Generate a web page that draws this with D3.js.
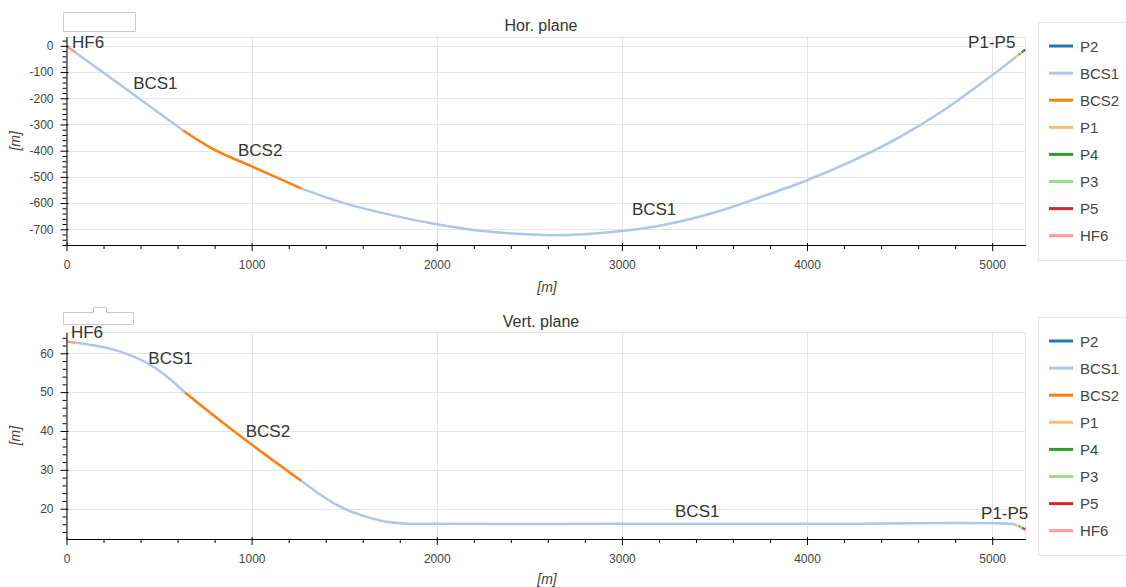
<!DOCTYPE html>
<html>
<head>
<meta charset="utf-8">
<script src="https://cdn.jsdelivr.net/npm/d3@7"></script>
<style>
  body { margin: 0; background: #fff; }
  svg { display: block; font-family: "Liberation Sans", Arial, Helvetica, sans-serif; }
</style>
</head>
<body>
<svg id="chart"></svg>
<script>
// track segments, in order along the line
const segNames = ["HF6", "BCS1", "BCS2", "BCS1", "P1", "P2", "P3", "P4", "P5"];

// distance along the line [m]
const horDist = [
    [0, 50],
    [50, 300, 630],
    [630, 800, 1000, 1270],
    [1270, 1500, 1750, 2000, 2250, 2580, 2800, 3000, 3250, 3500, 3750, 4000, 4250, 4500, 4750, 5000, 5130],
    [5130, 5145],
    [5145, 5150],
    [5150, 5160],
    [5160, 5170],
    [5170, 5178]
];
// horizontal offset [m]
const horVal = [
    [0, -26],
    [-26, -153, -323],
    [-323, -397, -460, -545],
    [-545, -600, -645, -681, -707, -722, -719, -707, -680, -636, -577, -513, -437, -348, -240, -112, -41],
    [-41, -33],
    [-33, -30],
    [-30, -25],
    [-25, -19],
    [-19, -15]
];

const vertDist = [
    [0, 50],
    [50, 150, 250, 350, 450, 550, 640],
    [640, 800, 1000, 1270],
    [1270, 1350, 1440, 1530, 1620, 1720, 1820, 2000, 3000, 4000, 5100, 5130],
    [5130, 5145],
    [5145, 5150],
    [5150, 5160],
    [5160, 5170],
    [5170, 5178]
];
// height [m]
const vertVal = [
    [63.0, 62.7],
    [62.7, 62.0, 61.0, 59.4, 57.1, 53.7, 49.9],
    [49.9, 43.8, 36.5, 27.1],
    [27.1, 24.3, 21.5, 19.4, 17.9, 16.7, 16.2, 16.1, 16.1, 16.1, 16.1, 15.8],
    [15.8, 15.5],
    [15.5, 15.4],
    [15.4, 15.1],
    [15.1, 14.9],
    [14.9, 14.7]
];

const legendNames = ["P2", "BCS1", "BCS2", "P1", "P4", "P3", "P5", "HF6"];
const segColors = {
    P2: "#1f77b4", BCS1: "#aec7e8", BCS2: "#ff7f0e", P1: "#ffbb78",
    P4: "#2ca02c", P3: "#98df8a", P5: "#d62728", HF6: "#ff9896"
};

// element name labels (data coordinates)
const labelText = ["HF6", "BCS1", "BCS2", "BCS1", "P1-P5"];
const horLabelPos = [[30, -8], [360, -165], [926, -420], [3054, -645], [4870, -10]];
const vertLabelPos = [[24, 64.0], [442, 57.2], [968, 38.4], [3287, 17.9], [4940, 17.4]];

const xTicks = [0, 1000, 2000, 3000, 4000, 5000];
const horTicks = [-700, -600, -500, -400, -300, -200, -100, 0];
const vertTicks = [20, 30, 40, 50, 60];

const width = 1126, height = 587;
const svg = d3.select("#chart").attr("width", width).attr("height", height);

const x = d3.scaleLinear().domain([0, 5180]).range([66.5, 1025.5]);

function drawPanel(p) {
    const g = svg.append("g");
    const y = d3.scaleLinear().domain(p.yDomain).range([p.bottom, p.top]);

    // grid
    g.selectAll(".xgrid").data(xTicks.slice(1)).join("line")
        .attr("x1", d => Math.round(x(d)) + 0.5).attr("x2", d => Math.round(x(d)) + 0.5)
        .attr("y1", p.top).attr("y2", p.bottom)
        .attr("stroke", "#e5e5e5");
    g.selectAll(".ygrid").data(p.ticks).join("line")
        .attr("x1", x.range()[0]).attr("x2", x.range()[1])
        .attr("y1", d => Math.round(y(d)) + 0.5).attr("y2", d => Math.round(y(d)) + 0.5)
        .attr("stroke", "#e5e5e5");
    g.append("rect")
        .attr("x", x.range()[0]).attr("y", Math.round(p.top) + 0.5)
        .attr("width", x.range()[1] - x.range()[0]).attr("height", p.bottom - Math.round(p.top))
        .attr("fill", "none").attr("stroke", "#e5e5e5");

    // track segments
    const line = d3.line().x(d => x(d[0])).y(d => y(d[1])).curve(d3.curveCatmullRom.alpha(0.5));
    segNames.forEach((name, i) => {
        const pts = p.dist[i].map((s, j) => [s, p.vals[i][j]]);
        g.append("path")
            .attr("d", line(pts))
            .attr("fill", "none")
            .attr("stroke", segColors[name])
            .attr("stroke-width", 2.5);
    });

    // element labels
    g.selectAll(".lbl").data(p.labels).join("text")
        .attr("x", d => x(d[0])).attr("y", d => y(d[1]))
        .attr("font-size", 17).attr("fill", "#333")
        .text((d, i) => labelText[i]);

    // axes
    const xAxis = g.append("g")
        .attr("transform", "translate(0," + p.bottom + ")")
        .call(d3.axisBottom(x).tickValues(xTicks).tickSize(6).tickSizeOuter(0).tickPadding(9)
            .tickFormat(d => String(d)));
    xAxis.selectAll(".tick line").attr("y1", -2);
    xAxis.append("g")
        .call(d3.axisBottom(x).tickValues(d3.range(200, 5180, 200).filter(v => v % 1000)).tickSize(4).tickFormat(""))
        .select(".domain").remove();

    const yAxis = g.append("g")
        .attr("transform", "translate(" + x.range()[0] + ",0)")
        .call(d3.axisLeft(y).tickValues(p.ticks).tickSize(6).tickSizeOuter(0).tickPadding(7)
            .tickFormat(d => String(d)));
    yAxis.selectAll(".tick line").attr("x1", 2);
    yAxis.append("g")
        .call(d3.axisLeft(y).tickValues(p.minor.filter(v => !p.ticks.includes(v))).tickSize(4).tickFormat(""))
        .select(".domain").remove();

    [xAxis, yAxis].forEach(a => {
        a.selectAll("text").attr("font-size", 12).attr("fill", "#444")
            .attr("font-family", "'Liberation Sans', Arial, sans-serif");
        a.selectAll(".domain").attr("stroke", "#000");
        a.selectAll(".tick line").attr("stroke", "#000");
    });

    // axis titles
    g.append("text")
        .attr("x", 547).attr("y", p.xLabelY)
        .attr("text-anchor", "middle").attr("font-size", 14).attr("font-style", "italic")
        .attr("fill", "#444").text("[m]");
    g.append("text")
        .attr("transform", "translate(15," + (p.top + p.bottom) / 2 + ") rotate(-90)")
        .attr("text-anchor", "middle").attr("dominant-baseline", "central")
        .attr("font-size", 14).attr("font-style", "italic")
        .attr("fill", "#444").text("[m]");

    // title
    g.append("text")
        .attr("x", 541).attr("y", p.titleY)
        .attr("text-anchor", "middle").attr("font-size", 16).attr("fill", "#333")
        .text(p.title);

    // toolbar placeholder
    g.append("path").attr("d", p.toolbox).attr("fill", "#fff").attr("stroke", "#ccc");

    // legend
    g.append("rect")
        .attr("x", 1038.5).attr("y", p.legendTop + 0.5)
        .attr("width", 100).attr("height", p.legendH)
        .attr("fill", "#fff").attr("stroke", "#e5e5e5");
    const item = g.selectAll(".leg").data(legendNames).join("g")
        .attr("transform", (d, i) => "translate(0," + (p.legendTop + 24 + i * 27.1) + ")");
    item.append("line")
        .attr("x1", 1049).attr("x2", 1073)
        .attr("stroke", d => segColors[d]).attr("stroke-width", 3);
    item.append("text")
        .attr("x", 1080).attr("dominant-baseline", "central")
        .attr("font-size", 15).attr("fill", "#444")
        .text(d => d);
}

drawPanel({
    title: "Hor. plane", titleY: 31,
    top: 36.7, bottom: 245, xLabelY: 292,
    yDomain: [-760, 35], ticks: horTicks, minor: d3.range(-760, 35, 20),
    dist: horDist, vals: horVal, labels: horLabelPos,
    legendTop: 22, legendH: 238,
    toolbox: "M63.5,12.5H135.5V31.5H63.5Z"
});

drawPanel({
    title: "Vert. plane", titleY: 327,
    top: 332.3, bottom: 539, xLabelY: 584,
    yDomain: [12.2, 65.4], ticks: vertTicks, minor: d3.range(14, 65.4, 2),
    dist: vertDist, vals: vertVal, labels: vertLabelPos,
    legendTop: 317, legendH: 238,
    toolbox: "M63.5,312.5H93.5V307.5H106.5V312.5H133.5V324.5H63.5Z"
});
</script>
</body>
</html>
